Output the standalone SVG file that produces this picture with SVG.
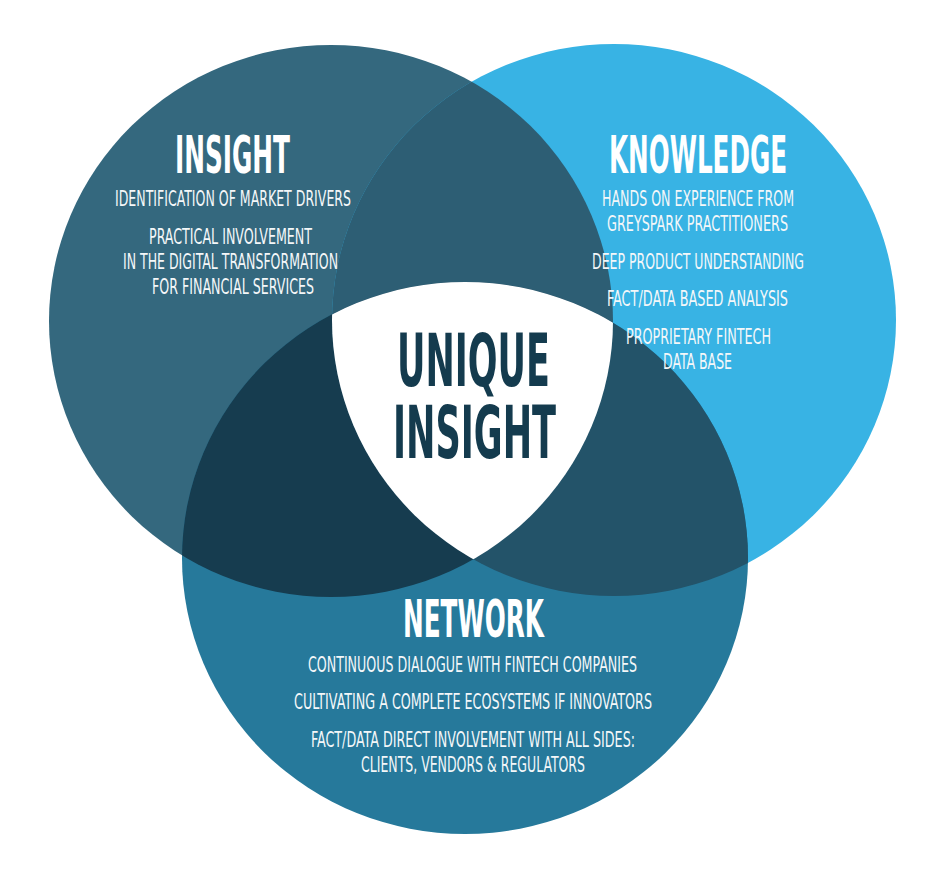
<svg xmlns="http://www.w3.org/2000/svg" width="938" height="879" viewBox="0 0 938 879">
<style>
text{font-family:"Liberation Sans Narrow","DejaVu Sans Condensed","Liberation Sans",sans-serif;text-anchor:middle;fill:#ffffff}
.t{font-size:52px;font-weight:bold}
.s{font-size:22px;fill:#f4f7f9}
.u{font-size:73px;font-weight:bold;fill:#143b4e}
</style>
<defs>
<ellipse id="eL" cx="331" cy="321" rx="282" ry="276"/>
<ellipse id="eR" cx="614" cy="320" rx="282" ry="276"/>
<ellipse id="eB" cx="465" cy="558" rx="283" ry="276"/>
<clipPath id="cL"><use href="#eL"/></clipPath>
<clipPath id="cR"><use href="#eR"/></clipPath>
</defs>
<rect width="938" height="879" fill="#ffffff"/>
<g id="insight-circle"><use href="#eL" fill="#34687e"/></g>
<g id="knowledge-circle"><use href="#eR" fill="#38b3e4"/></g>
<g id="network-circle"><use href="#eB" fill="#26799b"/></g>
<g id="overlaps">
<use href="#eR" fill="#2d5e74" clip-path="url(#cL)"/>
<use href="#eB" fill="#163c4f" clip-path="url(#cL)"/>
<use href="#eB" fill="#235369" clip-path="url(#cR)"/>
<g clip-path="url(#cR)"><use href="#eB" fill="#ffffff" clip-path="url(#cL)"/></g>
</g>
<g id="insight">
<text class="t" x="232.5" y="173" textLength="115" lengthAdjust="spacingAndGlyphs">INSIGHT</text>
<text class="s" x="233" y="206" textLength="236" lengthAdjust="spacingAndGlyphs">IDENTIFICATION OF MARKET DRIVERS</text>
<text class="s" x="230.5" y="244" textLength="163" lengthAdjust="spacingAndGlyphs">PRACTICAL INVOLVEMENT</text>
<text class="s" x="230.5" y="269" textLength="215" lengthAdjust="spacingAndGlyphs">IN THE DIGITAL TRANSFORMATION</text>
<text class="s" x="233" y="294" textLength="162" lengthAdjust="spacingAndGlyphs">FOR FINANCIAL SERVICES</text>
</g>
<g id="knowledge">
<text class="t" x="698" y="173" textLength="178" lengthAdjust="spacingAndGlyphs">KNOWLEDGE</text>
<text class="s" x="698" y="206" textLength="192" lengthAdjust="spacingAndGlyphs">HANDS ON EXPERIENCE FROM</text>
<text class="s" x="697.5" y="231" textLength="181" lengthAdjust="spacingAndGlyphs">GREYSPARK PRACTITIONERS</text>
<text class="s" x="698" y="269" textLength="212" lengthAdjust="spacingAndGlyphs">DEEP PRODUCT UNDERSTANDING</text>
<text class="s" x="697.5" y="306" textLength="181" lengthAdjust="spacingAndGlyphs">FACT/DATA BASED ANALYSIS</text>
<text class="s" x="698.5" y="344" textLength="145" lengthAdjust="spacingAndGlyphs">PROPRIETARY FINTECH</text>
<text class="s" x="697.5" y="369" textLength="69" lengthAdjust="spacingAndGlyphs">DATA BASE</text>
</g>
<g id="unique-insight">
<text class="u" x="473.5" y="386" textLength="153" lengthAdjust="spacingAndGlyphs">UNIQUE</text>
<text class="u" x="474.5" y="458" textLength="163" lengthAdjust="spacingAndGlyphs">INSIGHT</text>
</g>
<g id="network">
<text class="t" x="473.5" y="637" textLength="141" lengthAdjust="spacingAndGlyphs">NETWORK</text>
<text class="s" x="472.5" y="672" textLength="329" lengthAdjust="spacingAndGlyphs">CONTINUOUS DIALOGUE WITH FINTECH COMPANIES</text>
<text class="s" x="473" y="709" textLength="358" lengthAdjust="spacingAndGlyphs">CULTIVATING A COMPLETE ECOSYSTEMS IF INNOVATORS</text>
<text class="s" x="473" y="747" textLength="324" lengthAdjust="spacingAndGlyphs">FACT/DATA DIRECT INVOLVEMENT WITH ALL SIDES:</text>
<text class="s" x="473" y="772" textLength="224" lengthAdjust="spacingAndGlyphs">CLIENTS, VENDORS &amp; REGULATORS</text>
</g>
</svg>
